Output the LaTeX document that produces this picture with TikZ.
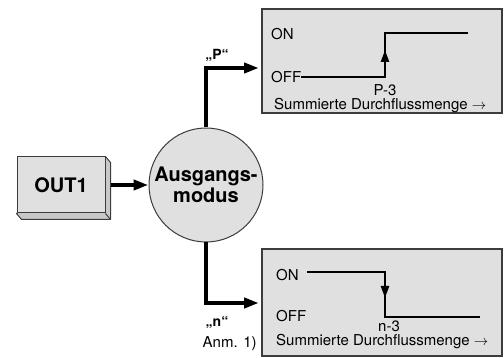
\documentclass[tikz,border=0pt]{standalone}
\usepackage{fontspec}
\setmainfont{TeX Gyre Heros}
\usetikzlibrary{positioning, arrows.meta, backgrounds}
\definecolor{panelgray}{RGB}{224,224,224}
\definecolor{sidegray}{RGB}{200,200,200}
\definecolor{framegray}{RGB}{60,60,60}

\begin{document}
\begin{tikzpicture}[
  x=1pt, y=-1pt,
  panel/.style={draw=framegray, line width=1.3pt, fill=panelgray, minimum width=240pt, minimum height=104pt, inner sep=0pt},
  outbox/.style={draw=framegray, line width=1pt, fill=panelgray, minimum width=88pt, minimum height=56pt, font=\fontsize{20}{22}\selectfont\bfseries},
  outside/.style={draw=framegray, line width=1pt, fill=sidegray, line join=round},
  modus/.style={circle, draw=framegray, line width=1pt, fill=panelgray, minimum size=114pt, inner sep=0pt, align=center, font=\fontsize{20}{21}\selectfont\bfseries},
  lbl/.style={inner sep=0pt, font=\fontsize{15}{17}\selectfont},
  tag/.style={inner sep=0pt, font=\fontsize{14}{16}\selectfont\bfseries},
  flow/.style={line width=4.5pt, -{Triangle[length=15pt, width=10pt]}},
  trace/.style={line width=2.5pt},
  tracearrow/.style={line width=2.5pt, -{Triangle[length=12pt, width=8pt]}}
]
\useasboundingbox (0,0) rectangle (504,358);

\node[panel] (pgraph) at (382,61) {};
\node[panel, minimum height=107pt] (ngraph) at (382,302.5) {};

\node[outbox] (out) at (61,185) {OUT1};
\begin{scope}[on background layer]
\draw[outside] (out.north east) -- ([shift={(5,6)}]out.north east) -- ([shift={(5,6)}]out.south east)
  -- ([shift={(5,6)}]out.south west) -- (out.south west) -- cycle;
\end{scope}
\draw[framegray, line width=1pt] (out.south east) -- ([shift={(5,6)}]out.south east);

\node[modus] (mode) at (206,185) {Ausgangs-\\modus};

\coordinate (pin) at (259,68);
\coordinate (nin) at (259,303);

\draw[flow] ([xshift=5pt]out.east) -- (mode.west);
\draw[flow] (mode) |- (pin);
\draw[flow] (mode) |- (nin);

\node[tag] (plabel) at (217,55) {„P“};
\node[tag] (nlabel) at (217,322) {„n“};
\node[lbl, below=8pt of nlabel.south west, anchor=north west, xshift=-3pt] (note) {Anm. 1)};

\node[lbl, anchor=west] (onP) at (271,34) {ON};
\node[lbl, anchor=west] (offP) at (271,77) {OFF};
\coordinate (pstep) at (385,33);
\coordinate (pend) at (468,33);
\draw[trace] (offP.east) -| (pstep) -- (pend);
\draw[tracearrow] (offP.east -| pstep) -- ++(0,-27);
\node[lbl] (plevel) at (385,90) {P-3};
\node[lbl, anchor=west] (paxis) at (274,106) {Summierte Durchflussmenge $\rightarrow$};

\node[lbl, anchor=west] (onN) at (276,275) {ON};
\node[lbl, anchor=west] (offN) at (276,316) {OFF};
\coordinate (nstart) at (307,272);
\coordinate (nstep) at (385,317);
\coordinate (nend) at (480,317);
\draw[trace] (nstart) -| (nstep) -- (nend);
\draw[tracearrow] (nstart -| nstep) -- ++(0,26);
\node[lbl] (nlevel) at (389,326) {n-3};
\node[lbl, anchor=west] (naxis) at (276,342) {Summierte Durchflussmenge $\rightarrow$};
\end{tikzpicture}
\end{document}
